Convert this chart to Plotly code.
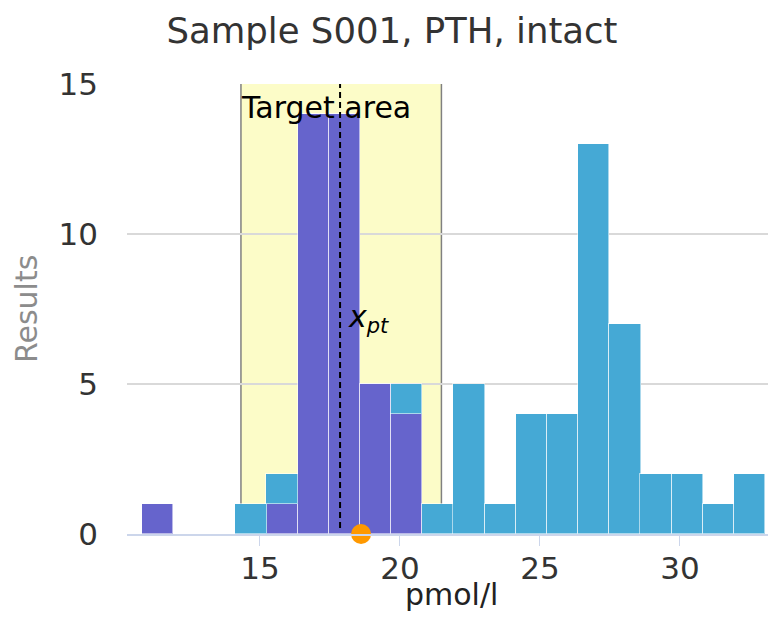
import plotly.graph_objects as go

# ---- data ----
bin_starts = [10.78, 11.89, 13.00, 14.12, 15.23, 16.34, 17.46, 18.57, 19.68, 20.80,
              21.91, 23.02, 24.14, 25.25, 26.36, 27.48, 28.59, 29.70, 30.82, 31.93]
bin_width = 1.113
counts_purple = [1, 0, 0, 0, 1, 14, 14, 5, 4, 0, 0, 0, 0, 0, 0, 0, 0, 0, 0, 0]
counts_blue = [0, 0, 0, 1, 1, 0, 0, 0, 1, 1, 5, 1, 4, 4, 13, 7, 2, 2, 1, 2]

x_pt = 17.86
target_low = 14.32
target_high = 21.48
result_value = 18.61

title_text = "Sample S001, PTH, intact"
x_title = "pmol/l"
y_title = "Results"
x_ticks = [15, 20, 25, 30]
y_ticks = [0, 5, 10, 15]

FONT = "DejaVu Sans"
PURPLE = "#6664CC"
BLUE = "#45A9D5"
YELLOW = "#FCFCC8"
ORANGE = "#FF9900"

fig = go.Figure()
fig.add_trace(go.Bar(x=bin_starts, y=counts_purple, width=bin_width, offset=0,
                     marker=dict(color=PURPLE, line=dict(color="rgba(255,255,255,0.55)", width=1)),
                     hoverinfo="skip", showlegend=False))
fig.add_trace(go.Bar(x=bin_starts, y=counts_blue, width=bin_width, offset=0,
                     marker=dict(color=BLUE, line=dict(color="rgba(255,255,255,0.55)", width=1)),
                     hoverinfo="skip", showlegend=False))
fig.add_trace(go.Scatter(x=[result_value], y=[0], mode="markers",
                         marker=dict(color=ORANGE, size=20, line=dict(width=0)),
                         cliponaxis=False, hoverinfo="skip", showlegend=False))

ymax = y_ticks[-1]
# target area
fig.add_shape(type="rect", xref="x", yref="y", x0=target_low, x1=target_high, y0=0, y1=ymax,
              fillcolor=YELLOW, line=dict(width=0), layer="below")
for xv in (target_low, target_high):
    fig.add_shape(type="line", xref="x", yref="y", x0=xv, x1=xv, y0=0, y1=ymax,
                  line=dict(color="#808080", width=1.5), layer="below")
# x_pt line
fig.add_shape(type="line", xref="x", yref="y", x0=x_pt, x1=x_pt, y0=0.2, y1=ymax,
              line=dict(color="black", width=2, dash="6px,4px"), layer="above")

fig.add_annotation(x=target_low, y=ymax, xref="x", yref="y", text="Target area",
                   showarrow=False, xanchor="left", yanchor="top", xshift=-2, yshift=-4,
                   font=dict(family=FONT, size=30, color="black"))
fig.add_annotation(x=x_pt, y=7.2, xref="x", yref="y", text="<i>x</i><sub><i>pt</i></sub>",
                   showarrow=False, xanchor="left", yanchor="middle", xshift=6,
                   font=dict(family=FONT, size=30, color="black"))
# axis titles
fig.add_annotation(x=0.5, y=-0.135, xref="paper", yref="paper", text=x_title,
                   showarrow=False, xanchor="center", yanchor="middle",
                   font=dict(family=FONT, size=30, color="#222222"))
fig.add_annotation(x=-0.1556, y=0.5, xref="paper", yref="paper", text=y_title, textangle=-90,
                   showarrow=False, xanchor="center", yanchor="middle",
                   font=dict(family=FONT, size=30, color="#8C8C8C"))

# the page body adds an 8px offset, so the figure is sized to the visible area
fig.update_layout(
    width=768, height=615,
    margin=dict(l=119, r=0, t=76, b=89, autoexpand=False),
    paper_bgcolor="white", plot_bgcolor="white",
    barmode="stack", bargap=0,
    title=dict(text=title_text, x=0.5, xref="container", xanchor="center",
               y=0.964, yref="container", yanchor="middle",
               font=dict(family=FONT, size=35.5, color="#333333")),
    font=dict(family=FONT, color="#333333"),
    xaxis=dict(range=[10.25, 33.43], tickvals=x_ticks, ticktext=[str(t) for t in x_ticks],
               showgrid=False, zeroline=False, showline=True, linecolor="#CCD6EB", linewidth=2,
               ticks="outside", ticklen=10, tickcolor="#CCD6EB", tickwidth=1,
               ticklabelstandoff=-4, automargin=False,
               tickfont=dict(family=FONT, size=31, color="#333333")),
    yaxis=dict(range=[0, ymax], tickvals=y_ticks, showgrid=True, gridcolor="#D9D9D9", gridwidth=1.5,
               zeroline=False, showline=False, ticks="", ticklabelstandoff=28, automargin=False,
               tickfont=dict(family=FONT, size=31, color="#333333")),
)

fig.write_html("out.html")
